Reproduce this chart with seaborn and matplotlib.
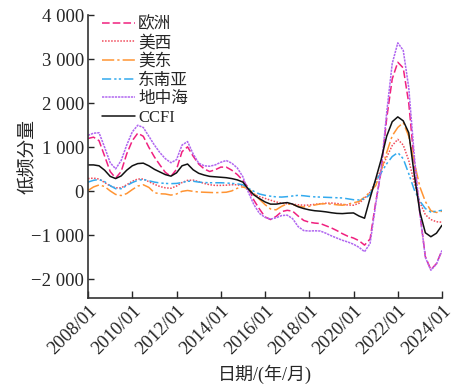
import pandas as pd
import numpy as np
import matplotlib
matplotlib.use('Agg')
import matplotlib.pyplot as plt
import matplotlib.ticker as mticker
import seaborn as sns

# quarterly dates 2008/01 .. 2024/01
dates = pd.date_range('2008-01-01', '2024-01-01', freq='QS')

europe = [1200, 1230, 1150, 800, 450, 300, 450, 850, 1150, 1320, 1250, 1000,
          780, 600, 430, 340, 500, 900, 1010, 800, 620, 510, 450, 490,
          550, 550, 480, 380, 250, 80, -200, -400, -580, -640, -570, -460,
          -430, -450, -560, -660, -700, -720, -730, -780, -830, -890, -960, -1020,
          -1060, -1120, -1220, -1080, -250, 450, 1650, 2550, 2930, 2800, 2000, 650,
          -505, -1480, -1780, -1640, -1340]

us_west = [290, 300, 280, 200, 120, 80, 80, 150, 230, 280, 280, 220,
           160, 110, 80, 70, 120, 200, 250, 255, 220, 180, 150, 135,
           135, 140, 150, 150, 120, 30, -60, -120, -160, -200, -240, -270,
           -280, -290, -305, -315, -310, -295, -280, -270, -265, -275, -295, -310,
           -315, -270, -160, -20, 220, 500, 775, 1040, 1180, 1050, 700, 200,
           -250, -530, -640, -690, -700]

us_east = [20, 100, 145, 110, 10, -70, -95, -50, 40, 120, 150, 90,
           -30, -55, -60, -85, -60, 0, 20, 0, -15, -20, -25, -30,
           -25, -20, 10, 70, 100, 60, -50, -180, -300, -400, -420, -340,
           -285, -300, -340, -355, -340, -310, -285, -280, -290, -305, -315, -290,
           -260, -230, -130, -15, 130, 470, 880, 1260, 1450, 1560, 1250, 650,
           100, -230, -440, -480, -450]

se_asia = [210, 250, 270, 220, 130, 60, 60, 130, 200, 250, 270, 240,
           210, 190, 180, 175, 180, 200, 230, 230, 210, 200, 195, 195,
           195, 190, 180, 170, 150, 70, 0, -60, -90, -110, -125, -130,
           -120, -105, -90, -100, -115, -125, -130, -135, -140, -145, -150, -170,
           -190, -195, -170, -70, 230, 420, 625, 790, 880, 740, 400, 30,
           -220, -390, -470, -450, -430]

med = [1270, 1320, 1330, 1000, 650, 510, 700, 1050, 1350, 1500, 1450, 1250,
       1050, 880, 740, 650, 720, 1050, 1130, 850, 640, 580, 570, 600,
       660, 700, 640, 530, 330, -20, -300, -500, -590, -630, -600, -550,
       -540, -620, -800, -890, -900, -895, -900, -950, -1010, -1060, -1110, -1150,
       -1200, -1270, -1370, -1180, -300, 500, 1780, 2900, 3370, 3200, 2350, 800,
       -505, -1500, -1790, -1650, -1340]

ccfi = [600, 600, 580, 480, 340, 290, 350, 480, 580, 630, 640, 580,
        500, 440, 380, 345, 420, 580, 620, 490, 410, 370, 340, 330,
        320, 310, 290, 260, 210, 50, -80, -165, -240, -290, -290, -270,
        -255, -290, -350, -390, -420, -440, -450, -465, -485, -500, -505, -495,
        -490, -560, -610, -150, 280, 720, 1250, 1580, 1690, 1600, 1330, 370,
        -470, -940, -1030, -950, -770]

names = ['欧洲', '美西', '美东', '东南亚', '地中海', 'CCFI']
series = [europe, us_west, us_east, se_asia, med, ccfi]
colors = ['#f0207f', '#f04a5a', '#ff9433', '#33aaee', '#b066f0', '#111111']
dash_styles = [(5, 2), (1, 1), (8, 2, 1.5, 2), (6, 2, 1.5, 1.5, 1.5, 2), (1.5, 0.6), '']

df = pd.concat([pd.DataFrame({'date': dates, 'value': v, 'route': n})
                for n, v in zip(names, series)], ignore_index=True)

sns.set_style('ticks')
plt.rcParams['font.family'] = ['Liberation Serif', 'Noto Sans CJK SC']
plt.rcParams['axes.unicode_minus'] = True

fig = plt.figure(figsize=(4.57, 3.87), dpi=100)
ax = fig.add_axes([0.1926, 0.23, 0.7746, 0.731])

sns.lineplot(data=df, x='date', y='value', hue='route', style='route',
             hue_order=names, style_order=names,
             palette=dict(zip(names, colors)), dashes=dict(zip(names, dash_styles)),
             linewidth=1.1, ax=ax)

ax.set_xlim(pd.Timestamp('2008-01-01'), pd.Timestamp('2024-01-01'))
ax.set_ylim(-2420, 4000)

xticks = pd.date_range('2008-01-01', '2024-01-01', freq='2YS')
ax.set_xticks(xticks)
ax.set_xticklabels([d.strftime('%Y/%m') for d in xticks], rotation=45,
                   ha='right', rotation_mode='anchor', fontsize=13.5)
ax.set_yticks([-2000, -1000, 0, 1000, 2000, 3000, 4000])
ax.yaxis.set_major_formatter(mticker.FuncFormatter(
    lambda v, p: f'{v:,.0f}'.replace(',', ' ').replace('-', '\u2212')))
ax.tick_params(axis='y', direction='in', length=4, width=1, labelsize=13.5, pad=3)
ax.tick_params(axis='x', direction='in', length=5, width=1, labelsize=13.5, pad=3)

for s in ['top', 'right']:
    ax.spines[s].set_visible(False)
for s in ['left', 'bottom']:
    ax.spines[s].set_linewidth(1.2)
    ax.spines[s].set_color('#333333')

ax.set_xlabel('日期/(年/月)', fontsize=13)
ax.set_ylabel('低频分量', fontsize=13.5)
ax.xaxis.set_label_coords(0.5, -0.235)
ax.yaxis.set_label_coords(-0.145, 0.5)

handles, labels = ax.get_legend_handles_labels()
ax.legend(handles, labels, loc='upper left', frameon=False, fontsize=12,
          labelspacing=0.16, handlelength=2.0, handletextpad=0.2,
          borderaxespad=0.2, bbox_to_anchor=(0.01, 1.03))

fig.savefig('out.png', dpi=100)
